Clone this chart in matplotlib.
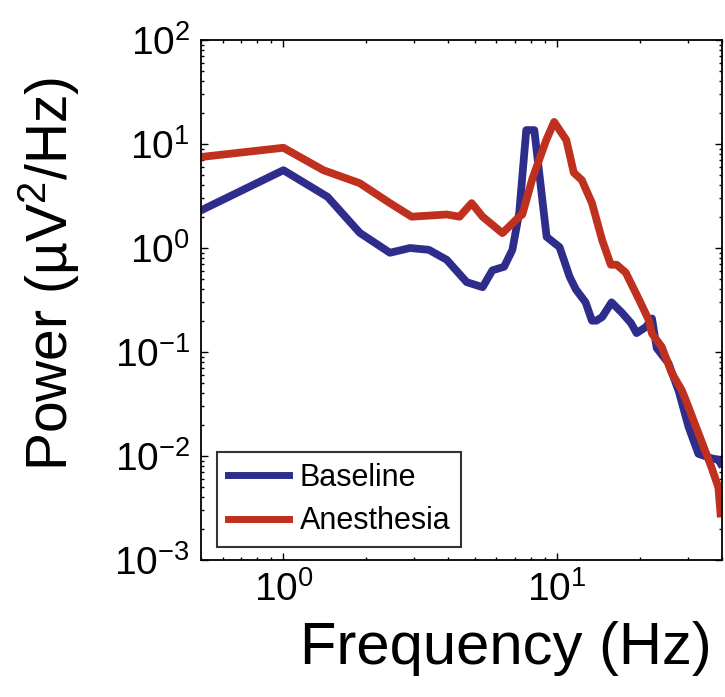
import matplotlib
matplotlib.use("Agg")
import matplotlib.pyplot as plt
from matplotlib.ticker import LogLocator, NullFormatter

# -----------------------------
# Data
# -----------------------------
baseline_freq = [0.5, 1.0, 1.45, 1.9, 2.45, 2.9, 3.4, 3.95, 4.67, 5.34, 5.8, 6.4,
                 6.86, 7.27, 7.71, 8.25, 9.15, 10.2, 11.1, 11.7, 12.7, 13.4, 13.9,
                 14.6, 15.8, 17.2, 18.6, 19.5, 21.1, 22.2, 23.1, 25.5, 27.8, 30.2,
                 32.8, 36.6, 38.8, 39.5]
baseline_power = [2.3, 5.6, 3.1, 1.4, 0.9, 1.0, 0.96, 0.77, 0.47, 0.42, 0.61, 0.66,
                  0.96, 2.2, 13.6, 13.6, 1.28, 1.02, 0.53, 0.40, 0.30, 0.20, 0.20,
                  0.217, 0.30, 0.24, 0.19, 0.152, 0.174, 0.21, 0.109, 0.078, 0.042,
                  0.019, 0.0105, 0.0095, 0.0092, 0.0085]

anesthesia_freq = [0.5, 1.0, 1.4, 1.9, 2.45, 2.94, 3.95, 4.4, 4.87, 5.34, 6.31, 7.27,
                   7.46, 8.11, 9.12, 9.75, 10.8, 11.5, 12.3, 13.4, 14.6, 15.7, 16.5,
                   17.8, 19.9, 21.6, 22.2, 24.1, 26.2, 28.5, 29.5, 32.8, 36.6, 38.8,
                   39.5]
anesthesia_power = [7.5, 9.2, 5.6, 4.2, 2.7, 2.0, 2.1, 2.0, 2.7, 2.0, 1.39, 2.0,
                    2.1, 4.6, 10.9, 16.3, 10.9, 5.3, 4.5, 2.7, 1.19, 0.69, 0.69,
                    0.58, 0.32, 0.203, 0.15, 0.112, 0.063, 0.043, 0.0345, 0.0166,
                    0.0078, 0.005, 0.0028]

BLUE = "#2e2d8c"
RED = "#c0301f"

plt.rcParams["font.family"] = ["Liberation Sans", "DejaVu Sans"]
plt.rcParams["mathtext.fontset"] = "custom"
plt.rcParams["mathtext.rm"] = "Liberation Sans"
plt.rcParams["mathtext.it"] = "Liberation Sans:italic"
plt.rcParams["mathtext.default"] = "regular"

fig = plt.figure(figsize=(7.25, 6.97), dpi=100)
ax = fig.add_axes([201 / 725, 137 / 697, 521 / 725, 520 / 697])

ax.plot(baseline_freq, baseline_power, color=BLUE, lw=5.6, label="Baseline",
        solid_joinstyle="round")
ax.plot(anesthesia_freq, anesthesia_power, color=RED, lw=5.6, label="Anesthesia",
        solid_joinstyle="round")

ax.set_xscale("log")
ax.set_yscale("log")
ax.set_xlim(0.5, 40)
ax.set_ylim(1e-3, 1e2)

ax.xaxis.set_major_locator(LogLocator(base=10, numticks=10))
ax.yaxis.set_major_locator(LogLocator(base=10, numticks=10))
ax.xaxis.set_minor_locator(LogLocator(base=10, subs=range(2, 10), numticks=20))
ax.yaxis.set_minor_locator(LogLocator(base=10, subs=range(2, 10), numticks=20))
ax.xaxis.set_minor_formatter(NullFormatter())
ax.yaxis.set_minor_formatter(NullFormatter())

ax.tick_params(which="both", direction="in", top=True, right=True, width=1)
ax.tick_params(which="major", length=5, labelsize=28, pad=8)
ax.tick_params(which="minor", length=2.5)
for s in ax.spines.values():
    s.set_linewidth(1.3)

ax.set_xlabel("Frequency (Hz)", fontsize=43)
ax.xaxis.set_label_coords(0.585, -0.118)
ax.set_ylabel("Power (\u00b5V$^{2}$/Hz)", fontsize=41)
ax.yaxis.set_label_coords(-0.228, 0.55)

leg = ax.legend(loc="lower left", bbox_to_anchor=(0.031, 0.025), borderaxespad=0,
                fontsize=22, frameon=True, fancybox=False, handlelength=2.0,
                handletextpad=0.35, borderpad=0.35, labelspacing=0.45)
leg.get_frame().set_edgecolor("black")
leg.get_frame().set_linewidth(1.5)
for line in leg.get_lines():
    line.set_linewidth(5)

fig.savefig("out.png", dpi=100)
